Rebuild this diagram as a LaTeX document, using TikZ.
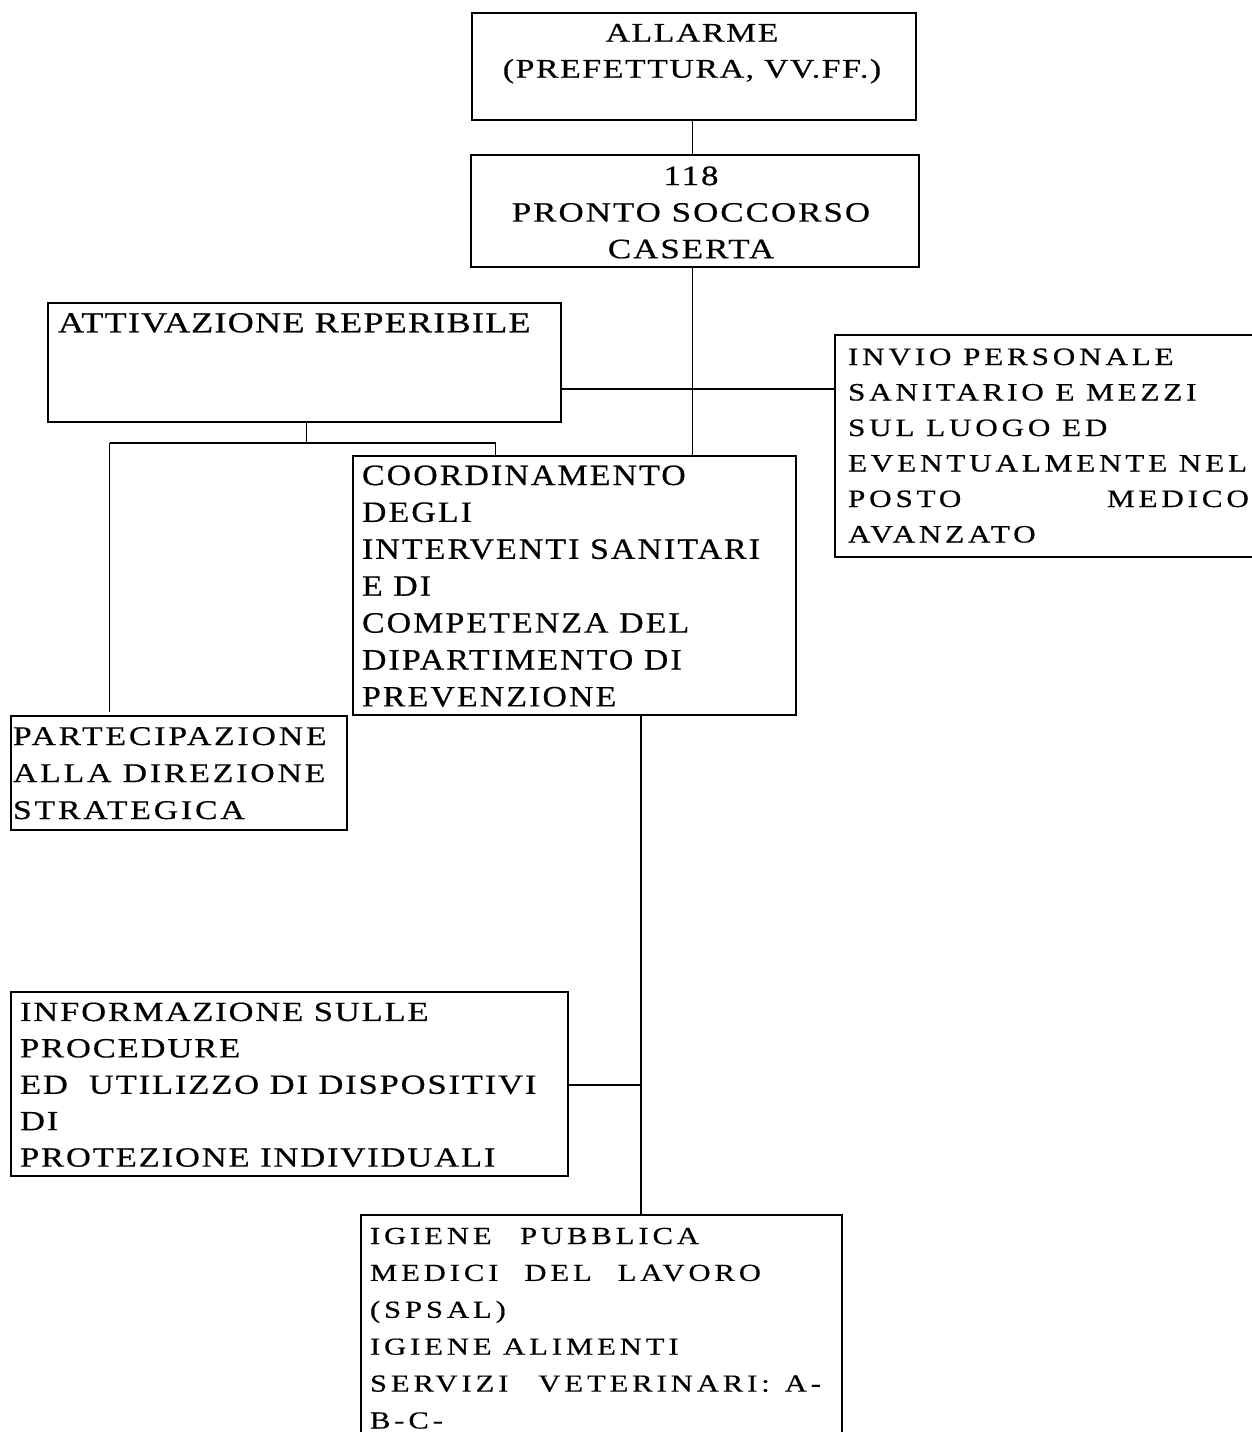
\documentclass[tikz,border=0pt]{standalone}
\usepackage{fontspec}
\setmainfont{Liberation Serif}
\newcommand\fsz[4]{\fontsize{#1}{#2}\selectfont\addfontfeature{FakeStretch=#4,LetterSpace=#3,FakeBold=0.5}}
\newcommand\fl{\rule{0pt}{0.8em}}
\tikzset{
  box/.style={draw, line width=1.8pt, inner sep=0pt, outer sep=0pt, anchor=north west},
  conn/.style={line width=1.3pt},
  txt/.style={inner sep=0pt, outer sep=0pt, anchor=north west, align=left},
}
\begin{document}
\begin{tikzpicture}[x=1pt,y=-1pt]
\useasboundingbox (0,0) rectangle (1251,1432);
% boxes
\node[box, minimum width=444pt, minimum height=107pt] (al) at (472,13) {};
\node[box, minimum width=448pt, minimum height=112pt] (ps) at (471,155) {};
\node[box, minimum width=513pt, minimum height=119pt] (at) at (48,303) {};
\node[box, minimum width=450pt, minimum height=222pt] (inv) at (835,335) {};
\node[box, minimum width=443pt, minimum height=259pt] (co) at (353,456) {};
\node[box, minimum width=336pt, minimum height=114pt] (pa) at (11,716) {};
\node[box, minimum width=557pt, minimum height=184pt] (inf) at (11,992) {};
\node[box, minimum width=481pt, minimum height=260pt] (ig) at (361,1215) {};
% texts
\node[txt, anchor=north, align=center, font=\fsz{27}{36}{6}{1.25}] (al-t) at (692,20.1)
  {\fl ALLARME\\(PREFETTURA, VV.FF.)};
\node[txt, anchor=north, align=center, font=\fsz{28}{36.6}{7}{1.25}] (ps-t) at (691,162.6)
  {\fl 118\\PRONTO SOCCORSO\\CASERTA};
\node[txt, font=\fsz{29}{36}{4}{1.25}] (at-t) at (58,309.1) {\fl ATTIVAZIONE REPERIBILE};
\node[txt, font=\fsz{25}{35.5}{15}{1.25}] (inv-t) at (848,345)
  {\fl INVIO PERSONALE\\SANITARIO E MEZZI\\SUL LUOGO ED\\EVENTUALMENTE NEL\\\hbox to 401pt{POSTO\hfill MEDICO}\\AVANZATO};
\node[txt, font=\fsz{29.5}{36.9}{7}{1.15}] (co-t) at (362,461.4)
  {\fl COORDINAMENTO\\DEGLI\\INTERVENTI SANITARI\\E DI\\COMPETENZA DEL\\DIPARTIMENTO DI\\PREVENZIONE};
\node[txt, font=\fsz{27}{37}{10.5}{1.25}] (pa-t) at (13,723.4)
  {\fl PARTECIPAZIONE\\ALLA DIREZIONE\\STRATEGICA};
\node[txt, font=\fsz{27.7}{36.4}{6.5}{1.25}] (inf-t) at (20,998.8)
  {\fl INFORMAZIONE SULLE\\PROCEDURE\\ED\ \ UTILIZZO DI DISPOSITIVI\\DI\\PROTEZIONE INDIVIDUALI};
\node[txt, font=\fsz{24.5}{36.9}{16}{1.25}] (ig-t) at (370,1224.4)
  {\fl\hbox to 329pt{IGIENE\hfill PUBBLICA}\\\hbox to 391pt{MEDICI\hfill DEL\hfill LAVORO}\\(SPSAL)\\IGIENE ALIMENTI\\\hbox to 451pt{SERVIZI\hspace{0pt plus 2fill}VETERINARI:\hspace{0pt plus 1fill}A-}\\B-C-};
% connectors
\coordinate (cx1) at (692.7,0);
\draw[conn] (al.south -| cx1) -- (ps.north -| cx1);
\draw[conn] (ps.south -| cx1) -- (co.north -| cx1);
\coordinate (hy) at (0,389);
\draw[conn] (at.east |- hy) -- (inv.west |- hy);
\coordinate (b0) at (306.7,442.7);
\coordinate (b1) at (109.5,442.7);
\coordinate (b2) at (495.5,442.7);
\draw[conn] (at.south -| b0) -- (b0);
\draw[conn, line width=1.7pt] (b1) -- (b2);
\draw[conn] (b2) -- (co.north -| b2);
\draw[conn, shorten >=4pt] (b1) -- (pa.north -| b1);
\coordinate (v) at (641,1085);
\draw[conn] (co.south -| v) -- (ig.north -| v);
\draw[conn] (inf.east |- v) -- (v);
\end{tikzpicture}
\end{document}
